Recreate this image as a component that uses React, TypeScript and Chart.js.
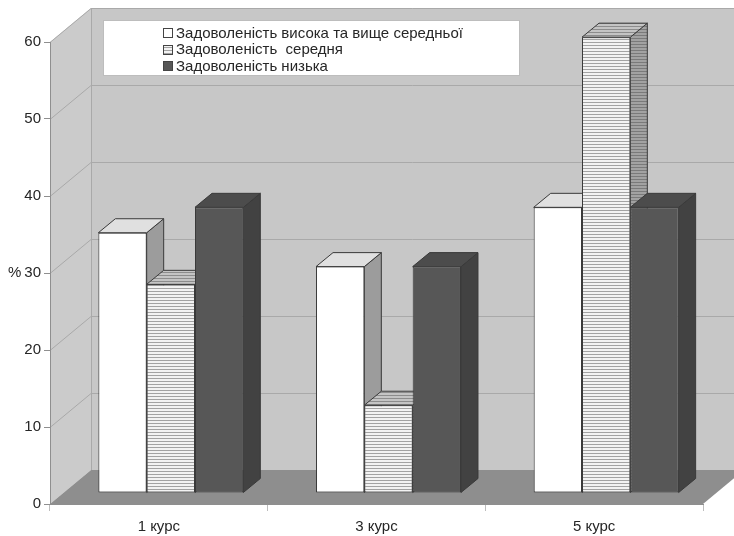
import React, { useEffect, useRef } from 'react';
import { Chart, registerables } from 'chart.js';

Chart.register(...registerables);

// Data
const courses = ['1 курс', '3 курс', '5 курс'];
const seriesNames = [
  'Задоволеність висока та вище середньої',
  'Задоволеність  середня',
  'Задоволеність низька',
];
const highValues = [33.8, 29.4, 37.1];
const mediumValues = [27.1, 11.4, 59.2];
const lowValues = [37.1, 29.4, 37.1];
const yTickValues = [0, 10, 20, 30, 40, 50, 60];
const yAxisUnit = '%';

// Scene geometry (oblique projection)
const WALL_DX = 41;
const WALL_DY = -34;
const BAR_OFF_DX = 12;
const BAR_OFF_DY = -11;
const BAR_DX = 17;
const BAR_DY = -14;

const FONT = '"Liberation Sans", Arial, sans-serif';
const TEXT_COLOR = '#262626';
const OUTLINE = '#3a3a3a';

function stripes(bg: string, line: string): CanvasPattern | string {
  const c = document.createElement('canvas');
  c.width = 4;
  c.height = 3;
  const g = c.getContext('2d');
  if (!g) return bg;
  g.fillStyle = bg;
  g.fillRect(0, 0, 4, 3);
  g.fillStyle = line;
  g.fillRect(0, 2, 4, 1);
  const p = g.createPattern(c, 'repeat');
  return p || bg;
}

type Faces = { front: any; top: any; side: any };

function poly(ctx: CanvasRenderingContext2D, pts: number[][], fill: any, stroke?: string) {
  ctx.beginPath();
  ctx.moveTo(pts[0][0], pts[0][1]);
  for (let i = 1; i < pts.length; i++) ctx.lineTo(pts[i][0], pts[i][1]);
  ctx.closePath();
  if (fill) {
    ctx.fillStyle = fill;
    ctx.fill();
  }
  if (stroke) {
    ctx.strokeStyle = stroke;
    ctx.lineWidth = 1;
    ctx.stroke();
  }
}

export default function App() {
  const canvasRef = useRef<HTMLCanvasElement | null>(null);

  useEffect(() => {
    document.body.style.margin = '0';
    const canvas = canvasRef.current;
    if (!canvas) return;

    const faces: Faces[] = [
      { front: '#ffffff', top: '#e0e0e0', side: '#9c9c9c' },
      {
        front: stripes('#f3f3f3', '#a3a3a3'),
        top: stripes('#c4c4c4', '#8c8c8c'),
        side: stripes('#a2a2a2', '#7a7a7a'),
      },
      { front: '#575757', top: '#4c4c4c', side: '#424242' },
    ];

    const scenePlugin = {
      id: 'scene3d',
      beforeDraw(chart: any) {
        const { ctx, chartArea: a, scales } = chart;
        const y = scales.y;
        const W = chart.width;
        ctx.save();
        // back wall
        ctx.fillStyle = '#c7c7c7';
        ctx.fillRect(a.left + WALL_DX, a.top + WALL_DY, W - (a.left + WALL_DX), a.bottom - a.top);
        // left wall
        poly(
          ctx,
          [
            [a.left, a.top],
            [a.left + WALL_DX, a.top + WALL_DY],
            [a.left + WALL_DX, a.bottom + WALL_DY],
            [a.left, a.bottom],
          ],
          '#cbcbcb'
        );
        // grid lines on the walls
        ctx.strokeStyle = '#a9a9a9';
        ctx.lineWidth = 1;
        for (const v of yTickValues) {
          if (v === 0) continue;
          const py = Math.round(y.getPixelForValue(v)) + 0.5;
          ctx.beginPath();
          ctx.moveTo(a.left, py);
          ctx.lineTo(a.left + WALL_DX, py + WALL_DY);
          ctx.lineTo(W, py + WALL_DY);
          ctx.stroke();
        }
        // back-left edge
        ctx.beginPath();
        ctx.moveTo(a.left + WALL_DX + 0.5, a.top + WALL_DY);
        ctx.lineTo(a.left + WALL_DX + 0.5, a.bottom + WALL_DY);
        ctx.stroke();
        // floor
        poly(
          ctx,
          [
            [a.left, a.bottom],
            [a.right, a.bottom],
            [a.right + WALL_DX, a.bottom + WALL_DY],
            [a.left + WALL_DX, a.bottom + WALL_DY],
          ],
          '#8e8e8e'
        );
        // unit label
        ctx.fillStyle = TEXT_COLOR;
        ctx.font = `15px ${FONT}`;
        ctx.textAlign = 'left';
        ctx.textBaseline = 'middle';
        ctx.fillText(yAxisUnit, 8, y.getPixelForValue(30));
        ctx.restore();
      },
      beforeDatasetsDraw(chart: any) {
        const { ctx } = chart;
        ctx.save();
        const n = chart.data.labels.length;
        for (let i = 0; i < n; i++) {
          chart.data.datasets.forEach((_ds: any, d: number) => {
            const el = chart.getDatasetMeta(d).data[i];
            const { x, y, base, width } = el.getProps(['x', 'y', 'base', 'width'], true);
            const l = x - width / 2 + BAR_OFF_DX;
            const r = x + width / 2 + BAR_OFF_DX;
            const t = y + BAR_OFF_DY;
            const b = base + BAR_OFF_DY;
            poly(
              ctx,
              [
                [r, t],
                [r + BAR_DX, t + BAR_DY],
                [r + BAR_DX, b + BAR_DY],
                [r, b],
              ],
              faces[d].side,
              OUTLINE
            );
            poly(
              ctx,
              [
                [l, t],
                [r, t],
                [r + BAR_DX, t + BAR_DY],
                [l + BAR_DX, t + BAR_DY],
              ],
              faces[d].top,
              OUTLINE
            );
          });
        }
        ctx.restore();
        // front faces are drawn by the bar elements, shifted into depth
        ctx.save();
        ctx.translate(BAR_OFF_DX, BAR_OFF_DY);
      },
      afterDatasetsDraw(chart: any) {
        chart.ctx.restore();
      },
      afterDraw(chart: any) {
        const { ctx } = chart;
        ctx.save();
        // legend box
        ctx.fillStyle = '#ffffff';
        ctx.fillRect(103, 20, 416, 55);
        ctx.strokeStyle = '#bdbdbd';
        ctx.lineWidth = 1;
        ctx.strokeRect(103.5, 20.5, 416, 55);
        ctx.font = `15px ${FONT}`;
        ctx.textAlign = 'left';
        ctx.textBaseline = 'middle';
        chart.data.datasets.forEach((ds: any, d: number) => {
          const cy = 33 + d * 16.5;
          ctx.fillStyle = faces[d].front;
          ctx.fillRect(163, Math.round(cy - 5), 9, 9);
          ctx.strokeStyle = '#444444';
          ctx.strokeRect(163.5, Math.round(cy - 5) + 0.5, 9, 9);
          ctx.fillStyle = TEXT_COLOR;
          ctx.fillText(ds.label, 176, cy + 0.5);
        });
        ctx.restore();
      },
    };

    const mkDataset = (label: string, data: number[], d: number) => ({
      label,
      data,
      backgroundColor: faces[d].front,
      borderColor: OUTLINE,
      borderWidth: 1,
      borderSkipped: false,
      clip: false as any,
    });

    const chart = new Chart(canvas, {
      type: 'bar',
      data: {
        labels: courses,
        datasets: [
          mkDataset(seriesNames[0], highValues, 0),
          mkDataset(seriesNames[1], mediumValues, 1),
          mkDataset(seriesNames[2], lowValues, 2),
        ],
      },
      options: {
        animation: false,
        responsive: false,
        devicePixelRatio: 1,
        layout: { padding: { top: 42, right: 31, left: 0, bottom: 0 } },
        plugins: { legend: { display: false }, tooltip: { enabled: false } },
        datasets: { bar: { categoryPercentage: 0.666, barPercentage: 1 } },
        scales: {
          x: {
            grid: { offset: true, drawOnChartArea: false, tickLength: 7, color: '#bdbdbd' },
            border: { color: '#8e8e8e' },
            ticks: { font: { family: FONT, size: 15 }, color: TEXT_COLOR, padding: 7 },
            afterFit(s: any) {
              s.height = 32;
              s.paddingLeft = 0;
              s.paddingRight = 0;
            },
          },
          y: {
            min: 0,
            max: 60,
            grid: { drawOnChartArea: false, tickLength: 6, color: '#8f8f8f' },
            border: { color: '#8f8f8f' },
            ticks: { font: { family: FONT, size: 15 }, color: TEXT_COLOR, padding: 3 },
            afterBuildTicks(s: any) {
              s.ticks = yTickValues.map((v) => ({ value: v }));
            },
            afterFit(s: any) {
              s.width = 50;
              s.paddingTop = 0;
              s.paddingBottom = 0;
            },
          },
        },
      },
      plugins: [scenePlugin],
    });

    return () => chart.destroy();
  }, []);

  return (
    <div style={{ width: 734, height: 536 }}>
      <canvas ref={canvasRef} width={734} height={536} style={{ display: 'block' }} />
    </div>
  );
}
